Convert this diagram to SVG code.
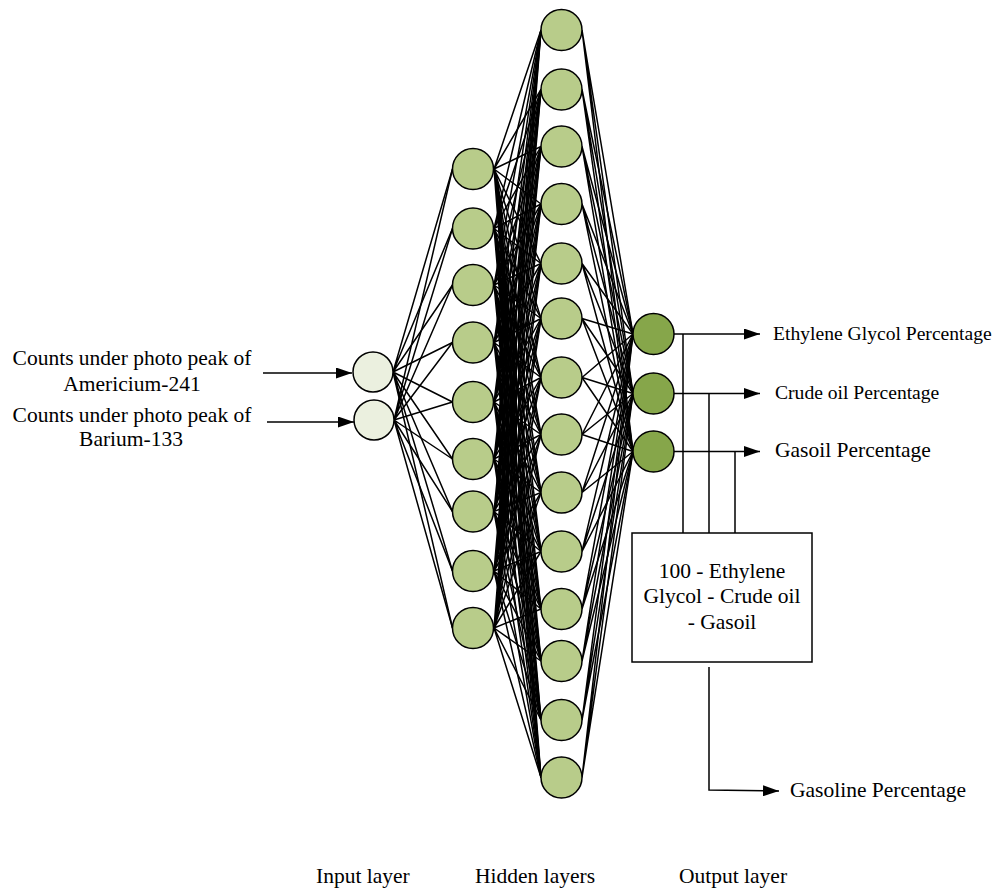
<svg xmlns="http://www.w3.org/2000/svg" width="997" height="890" viewBox="0 0 997 890">
<style>
text{font-family:"Liberation Serif","Times New Roman",serif;fill:#000;font-size:21.5px}
.c{stroke:#000;stroke-width:1.5;fill:none}
.a{stroke:#000;stroke-width:1.5;fill:none;marker-end:url(#arr)}
.n{stroke:#000;stroke-width:1.5}
.in{fill:#EBF0DF}
.h{fill:#B8CC8A}
.o{fill:#86A64A}
.mid{text-anchor:middle}
</style>
<defs>
<marker id="arr" markerUnits="userSpaceOnUse" markerWidth="16" markerHeight="11" viewBox="0 0 16 11" refX="16" refY="5.5" orient="auto"><path d="M0,0 L16,5.5 L0,11 z" fill="#000"/></marker>
</defs>
<rect width="997" height="890" fill="#fff"/>
<g id="connectors">
<path class="c" d="M393 372L452.5 169M393 372L452.5 228.5M393 372L452.5 285M393 372L452.5 342.5M393 372L452.5 402M393 372L452.5 459M393 372L452.5 511.5M393 372L452.5 571M393 372L452.5 628"/>
<path class="c" d="M394 420L452.5 169M394 420L452.5 228.5M394 420L452.5 285M394 420L452.5 342.5M394 420L452.5 402M394 420L452.5 459M394 420L452.5 511.5M394 420L452.5 571M394 420L452.5 628"/>
<path class="c" d="M494 169L541 30M494 169L541 89.5M494 169L541 146.5M494 169L541 204M494 169L541 263.5M494 169L541 318.5M494 169L541 377.5M494 169L541 434.5M494 169L541 492.5M494 169L541 551.5M494 169L541 609M494 169L541 661M494 169L541 720M494 169L541 777.5"/>
<path class="c" d="M494 228.5L541 30M494 228.5L541 89.5M494 228.5L541 146.5M494 228.5L541 204M494 228.5L541 263.5M494 228.5L541 318.5M494 228.5L541 377.5M494 228.5L541 434.5M494 228.5L541 492.5M494 228.5L541 551.5M494 228.5L541 609M494 228.5L541 661M494 228.5L541 720M494 228.5L541 777.5"/>
<path class="c" d="M494 285L541 30M494 285L541 89.5M494 285L541 146.5M494 285L541 204M494 285L541 263.5M494 285L541 318.5M494 285L541 377.5M494 285L541 434.5M494 285L541 492.5M494 285L541 551.5M494 285L541 609M494 285L541 661M494 285L541 720M494 285L541 777.5"/>
<path class="c" d="M494 342.5L541 30M494 342.5L541 89.5M494 342.5L541 146.5M494 342.5L541 204M494 342.5L541 263.5M494 342.5L541 318.5M494 342.5L541 377.5M494 342.5L541 434.5M494 342.5L541 492.5M494 342.5L541 551.5M494 342.5L541 609M494 342.5L541 661M494 342.5L541 720M494 342.5L541 777.5"/>
<path class="c" d="M494 402L541 30M494 402L541 89.5M494 402L541 146.5M494 402L541 204M494 402L541 263.5M494 402L541 318.5M494 402L541 377.5M494 402L541 434.5M494 402L541 492.5M494 402L541 551.5M494 402L541 609M494 402L541 661M494 402L541 720M494 402L541 777.5"/>
<path class="c" d="M494 459L541 30M494 459L541 89.5M494 459L541 146.5M494 459L541 204M494 459L541 263.5M494 459L541 318.5M494 459L541 377.5M494 459L541 434.5M494 459L541 492.5M494 459L541 551.5M494 459L541 609M494 459L541 661M494 459L541 720M494 459L541 777.5"/>
<path class="c" d="M494 511.5L541 30M494 511.5L541 89.5M494 511.5L541 146.5M494 511.5L541 204M494 511.5L541 263.5M494 511.5L541 318.5M494 511.5L541 377.5M494 511.5L541 434.5M494 511.5L541 492.5M494 511.5L541 551.5M494 511.5L541 609M494 511.5L541 661M494 511.5L541 720M494 511.5L541 777.5"/>
<path class="c" d="M494 571L541 30M494 571L541 89.5M494 571L541 146.5M494 571L541 204M494 571L541 263.5M494 571L541 318.5M494 571L541 377.5M494 571L541 434.5M494 571L541 492.5M494 571L541 551.5M494 571L541 609M494 571L541 661M494 571L541 720M494 571L541 777.5"/>
<path class="c" d="M494 628L541 30M494 628L541 89.5M494 628L541 146.5M494 628L541 204M494 628L541 263.5M494 628L541 318.5M494 628L541 377.5M494 628L541 434.5M494 628L541 492.5M494 628L541 551.5M494 628L541 609M494 628L541 661M494 628L541 720M494 628L541 777.5"/>
<path class="c" d="M582 30L633 334M582 30L633 393.5M582 30L633 451.5"/>
<path class="c" d="M582 89.5L633 334M582 89.5L633 393.5M582 89.5L633 451.5"/>
<path class="c" d="M582 146.5L633 334M582 146.5L633 393.5M582 146.5L633 451.5"/>
<path class="c" d="M582 204L633 334M582 204L633 393.5M582 204L633 451.5"/>
<path class="c" d="M582 263.5L633 334M582 263.5L633 393.5M582 263.5L633 451.5"/>
<path class="c" d="M582 318.5L633 334M582 318.5L633 393.5M582 318.5L633 451.5"/>
<path class="c" d="M582 377.5L633 334M582 377.5L633 393.5M582 377.5L633 451.5"/>
<path class="c" d="M582 434.5L633 334M582 434.5L633 393.5M582 434.5L633 451.5"/>
<path class="c" d="M582 492.5L633 334M582 492.5L633 393.5M582 492.5L633 451.5"/>
<path class="c" d="M582 551.5L633 334M582 551.5L633 393.5M582 551.5L633 451.5"/>
<path class="c" d="M582 609L633 334M582 609L633 393.5M582 609L633 451.5"/>
<path class="c" d="M582 661L633 334M582 661L633 393.5M582 661L633 451.5"/>
<path class="c" d="M582 720L633 334M582 720L633 393.5M582 720L633 451.5"/>
<path class="c" d="M582 777.5L633 334M582 777.5L633 393.5M582 777.5L633 451.5"/>
<path class="a" d="M263 373H352"/>
<path class="a" d="M267 422H354"/>
<path class="a" d="M674 334H760"/>
<path class="a" d="M674 393.5H760"/>
<path class="a" d="M674 451.5H760"/>
<path class="c" d="M683 334V533M709 393.5V533M735 451.5V533"/>
<path class="a" d="M709 667V790L779 791"/>
</g>
<g id="input-1"><circle class="n in" cx="373" cy="372" r="20"/></g>
<g id="input-2"><circle class="n in" cx="374" cy="420" r="20"/></g>
<g id="h1-1"><circle class="n h" cx="473" cy="169" r="20.5"/></g>
<g id="h1-2"><circle class="n h" cx="473" cy="228.5" r="20.5"/></g>
<g id="h1-3"><circle class="n h" cx="473" cy="285" r="20.5"/></g>
<g id="h1-4"><circle class="n h" cx="473" cy="342.5" r="20.5"/></g>
<g id="h1-5"><circle class="n h" cx="473" cy="402" r="20.5"/></g>
<g id="h1-6"><circle class="n h" cx="473" cy="459" r="20.5"/></g>
<g id="h1-7"><circle class="n h" cx="473" cy="511.5" r="20.5"/></g>
<g id="h1-8"><circle class="n h" cx="473" cy="571" r="20.5"/></g>
<g id="h1-9"><circle class="n h" cx="473" cy="628" r="20.5"/></g>
<g id="h2-1"><circle class="n h" cx="561.5" cy="30" r="20.5"/></g>
<g id="h2-2"><circle class="n h" cx="561.5" cy="89.5" r="20.5"/></g>
<g id="h2-3"><circle class="n h" cx="561.5" cy="146.5" r="20.5"/></g>
<g id="h2-4"><circle class="n h" cx="561.5" cy="204" r="20.5"/></g>
<g id="h2-5"><circle class="n h" cx="561.5" cy="263.5" r="20.5"/></g>
<g id="h2-6"><circle class="n h" cx="561.5" cy="318.5" r="20.5"/></g>
<g id="h2-7"><circle class="n h" cx="561.5" cy="377.5" r="20.5"/></g>
<g id="h2-8"><circle class="n h" cx="561.5" cy="434.5" r="20.5"/></g>
<g id="h2-9"><circle class="n h" cx="561.5" cy="492.5" r="20.5"/></g>
<g id="h2-10"><circle class="n h" cx="561.5" cy="551.5" r="20.5"/></g>
<g id="h2-11"><circle class="n h" cx="561.5" cy="609" r="20.5"/></g>
<g id="h2-12"><circle class="n h" cx="561.5" cy="661" r="20.5"/></g>
<g id="h2-13"><circle class="n h" cx="561.5" cy="720" r="20.5"/></g>
<g id="h2-14"><circle class="n h" cx="561.5" cy="777.5" r="20.5"/></g>
<g id="out-1"><circle class="n o" cx="653.5" cy="334" r="20.5"/></g>
<g id="out-2"><circle class="n o" cx="653.5" cy="393.5" r="20.5"/></g>
<g id="out-3"><circle class="n o" cx="653.5" cy="451.5" r="20.5"/></g>
<g id="calc-box">
<rect x="632" y="533" width="180" height="129" fill="#fff" stroke="#000" stroke-width="1.5"/>
<text class="mid" x="722" y="578">100 - Ethylene</text>
<text class="mid" x="722" y="603">Glycol - Crude oil</text>
<text class="mid" x="722" y="629">- Gasoil</text>
</g>
<g id="labels">
<text class="mid" x="132" y="365">Counts under photo peak of</text>
<text class="mid" x="132" y="391">Americium-241</text>
<text class="mid" x="132" y="422">Counts under photo peak of</text>
<text class="mid" x="131" y="446">Barium-133</text>
<text x="773" y="340" style="font-size:19.6px">Ethylene Glycol Percentage</text>
<text x="775" y="399" style="font-size:19.6px">Crude oil Percentage</text>
<text x="775" y="457">Gasoil Percentage</text>
<text x="790" y="797">Gasoline Percentage</text>
<text x="316" y="883">Input layer</text>
<text x="475" y="883">Hidden layers</text>
<text x="679" y="883">Output layer</text>
</g>
</svg>
